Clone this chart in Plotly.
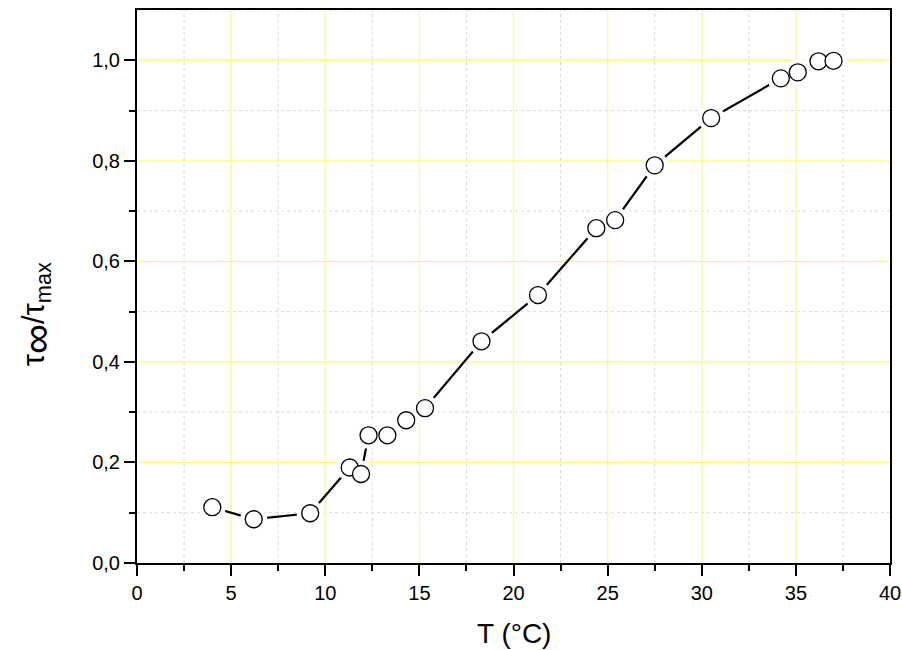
import plotly.graph_objects as go

# Temperature (°C) and normalised relaxation ratio tau_inf / tau_max
temperature = [4.0, 6.2, 9.2, 11.3, 11.9, 12.3, 13.3, 14.3, 15.3, 18.3,
               21.3, 24.4, 25.4, 27.5, 30.5, 34.2, 35.1, 36.2, 37.0]
ratio = [0.111, 0.087, 0.099, 0.190, 0.177, 0.254, 0.254, 0.284, 0.308, 0.441,
         0.533, 0.666, 0.682, 0.791, 0.885, 0.964, 0.976, 0.998, 0.999]

x_ticks = [0, 5, 10, 15, 20, 25, 30, 35, 40]
x_minor = [2.5, 7.5, 12.5, 17.5, 22.5, 27.5, 32.5, 37.5]
y_ticks = [0.0, 0.2, 0.4, 0.6, 0.8, 1.0]
y_minor = [0.1, 0.3, 0.5, 0.7, 0.9]

FONT = "Liberation Sans, Arial, sans-serif"
X_RANGE = [0, 40]
Y_RANGE = [0, 1.1]

fig = go.Figure()

# dotted minor grid
for xv in x_minor:
    fig.add_shape(type="line", xref="x", yref="paper", x0=xv, x1=xv, y0=0, y1=1,
                  line=dict(color="#d8d8d8", width=1, dash="dot"), layer="below")
for yv in y_minor + [1.1]:
    fig.add_shape(type="line", xref="paper", yref="y", x0=0, x1=1, y0=yv, y1=yv,
                  line=dict(color="#d8d8d8", width=1, dash="dot"), layer="below")
# yellow major grid
for xv in x_ticks[1:-1]:
    fig.add_shape(type="line", xref="x", yref="paper", x0=xv, x1=xv, y0=0, y1=1,
                  line=dict(color="#ffff70", width=1.3), layer="below")
for yv in y_ticks[1:]:
    fig.add_shape(type="line", xref="paper", yref="y", x0=0, x1=1, y0=yv, y1=yv,
                  line=dict(color="#ffff70", width=1.3), layer="below")

# connecting line
fig.add_trace(go.Scatter(x=temperature, y=ratio, mode="lines",
                         line=dict(color="black", width=2.2),
                         hoverinfo="skip", showlegend=False))
# white halo so the line stops short of each symbol
fig.add_trace(go.Scatter(x=temperature, y=ratio, mode="markers",
                         marker=dict(size=27, color="white", line=dict(width=0)),
                         hoverinfo="skip", showlegend=False))
# open circles
fig.add_trace(go.Scatter(x=temperature, y=ratio, mode="markers",
                         marker=dict(size=17, color="white",
                                     line=dict(color="black", width=1.3)),
                         showlegend=False))

axis_common = dict(
    automargin=False,
    showline=True, linecolor="black", linewidth=2, mirror=True,
    ticks="outside", ticklen=11, tickwidth=2, tickcolor="black",
    showgrid=False, zeroline=False,
    tickfont=dict(family=FONT, size=20, color="black"),
)
minor_common = dict(ticks="outside", ticklen=6, tickwidth=2, tickcolor="black",
                    showgrid=False)

fig.update_xaxes(
    range=X_RANGE, tickmode="array", tickvals=x_ticks,
    minor=dict(tickmode="array", tickvals=x_minor, **minor_common),
    **axis_common,
)
fig.update_yaxes(
    range=Y_RANGE, tickmode="array", tickvals=y_ticks, tickformat=".1f",
    minor=dict(tickmode="array", tickvals=y_minor, **minor_common),
    **axis_common,
)

# axis titles as annotations
fig.add_annotation(
    text="T (°C)",
    xref="paper", yref="paper", x=0.5, y=-0.1266,
    xanchor="center", yanchor="middle", showarrow=False,
    font=dict(family=FONT, size=28, color="black"),
)
fig.add_annotation(
    text="τ<sub><span style='font-size:42px'>∞</span></sub>/τ<sub>max</sub>",
    xref="paper", yref="paper", x=-0.134, y=0.45,
    xanchor="center", yanchor="middle", textangle=-90, showarrow=False,
    font=dict(family=FONT, size=31, color="black"),
)

fig.update_layout(
    width=902, height=650,
    margin=dict(l=137, r=12, t=10, b=87),
    paper_bgcolor="white", plot_bgcolor="white",
    separators=",.",
)

fig.write_html("out.html")
